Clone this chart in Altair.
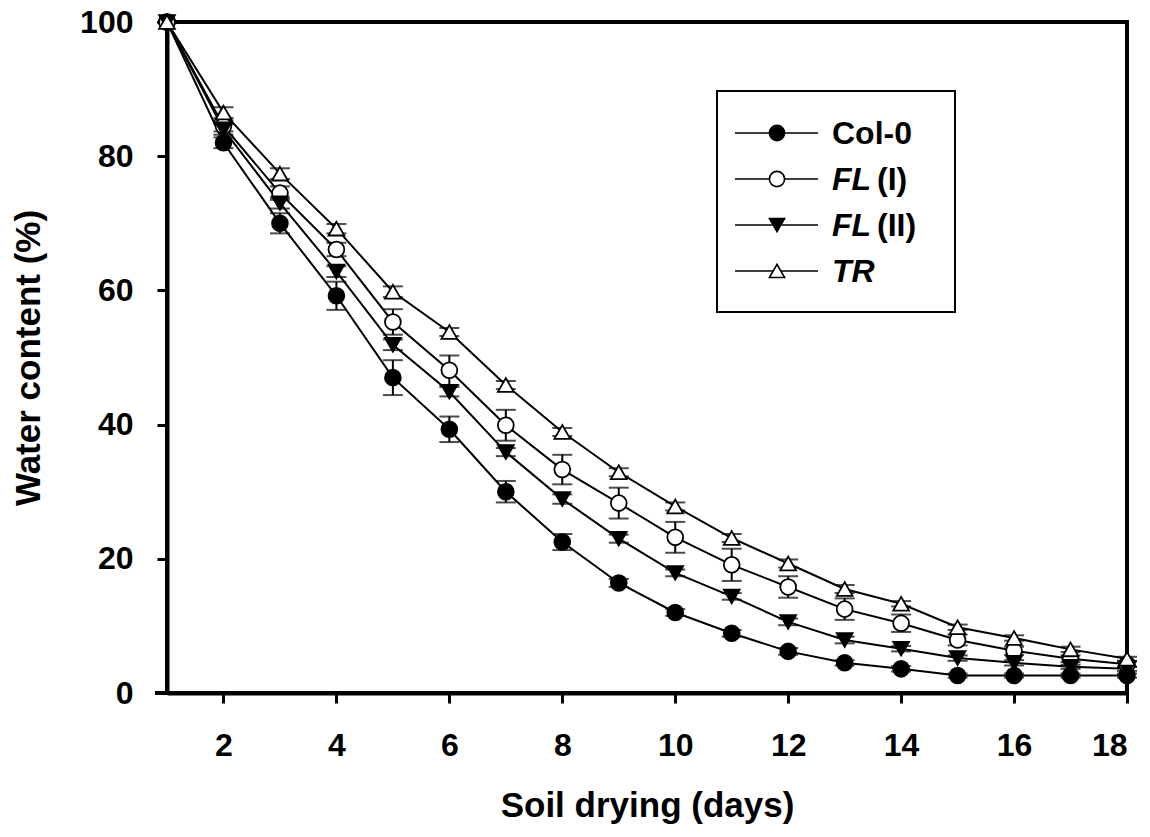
import altair as alt
import pandas as pd

# Soil drying time course: relative water content per line
days = list(range(1, 19))
series = ["Col-0", "FL (I)", "FL (II)", "TR"]

col0 = [100, 82, 70, 59.2, 47, 39.3, 30, 22.5, 16.4, 12, 8.9, 6.2, 4.5, 3.6, 2.6, 2.6, 2.6, 2.6]
fl_1 = [100, 84.5, 74.5, 66.1, 55.3, 48.1, 39.9, 33.3, 28.3, 23.2, 19.1, 15.8, 12.5, 10.4, 7.9, 6.3, 5.1, 4.3]
fl_2 = [100, 84, 73, 62.8, 51.9, 44.9, 35.9, 28.9, 23.0, 17.9, 14.4, 10.6, 7.9, 6.6, 5.2, 4.5, 3.9, 3.6]
tr = [100, 86.5, 77.4, 69.2, 59.8, 53.8, 45.9, 38.9, 32.9, 27.8, 23.1, 19.3, 15.5, 13.3, 9.8, 8.2, 6.5, 5.1]

col0_err = [0, 0.8, 1.5, 2.1, 2.6, 1.9, 1.6, 1.2, 0.6, 0.5, 0.5, 0.5, 0.4, 0.4, 0.3, 0.3, 0.3, 0.3]
fl_1_err = [0, 0.8, 1.0, 1.0, 1.9, 2.2, 2.3, 2.2, 2.3, 2.3, 2.4, 1.6, 1.6, 1.3, 0.8, 0.6, 0.5, 0.4]
fl_2_err = [0, 0.8, 0.8, 0.8, 0.8, 0.7, 0.6, 0.7, 0.6, 0.5, 0.5, 0.5, 0.5, 0.4, 0.4, 0.4, 0.3, 0.3]
tr_err = [0, 0.8, 0.8, 0.7, 0.8, 0.6, 0.6, 0.6, 0.6, 0.6, 0.6, 0.6, 0.6, 0.4, 0.4, 0.4, 0.4, 0.3]

x_ticks = [2, 4, 6, 8, 10, 12, 14, 16, 18]
y_ticks = [0, 20, 40, 60, 80, 100]

shapes = ["circle", "circle", "triangle-down", "triangle-up"]
fills = ["black", "white", "black", "white"]
sizes = [250, 250, 330, 330]

FONT = "Liberation Sans, Arial, Helvetica, sans-serif"

rows = []
for name, vals, errs in zip(series, [col0, fl_1, fl_2, tr], [col0_err, fl_1_err, fl_2_err, tr_err]):
    for d, v, e in zip(days, vals, errs):
        rows.append({"day": d, "series": name, "value": v, "lo": v - e, "hi": v + e})
df = pd.DataFrame(rows)

x_enc = alt.X("day:Q",
              scale=alt.Scale(domain=[1, 18], nice=False, zero=False),
              axis=alt.Axis(values=x_ticks, title="Soil drying (days)"))
y_enc = alt.Y("value:Q",
              scale=alt.Scale(domain=[0, 100], nice=False),
              axis=alt.Axis(values=y_ticks, title="Water content (%)"))

shape_enc = alt.Shape("series:N", scale=alt.Scale(domain=series, range=shapes), legend=None)
fill_enc = alt.Fill("series:N", scale=alt.Scale(domain=series, range=fills), legend=None)
size_enc = alt.Size("series:N", scale=alt.Scale(domain=series, range=sizes), legend=None)

base = alt.Chart(df)

err_rules = base.mark_rule(color="black", strokeWidth=2).encode(
    x=x_enc, y=alt.Y("lo:Q"), y2="hi:Q"
)
caps_lo = base.mark_tick(color="black", orient="horizontal", size=20, thickness=2).encode(
    x=x_enc, y=alt.Y("lo:Q")
)
caps_hi = base.mark_tick(color="black", orient="horizontal", size=20, thickness=2).encode(
    x=x_enc, y=alt.Y("hi:Q")
)
lines = base.mark_line(color="black", strokeWidth=2).encode(
    x=x_enc, y=y_enc, detail="series:N"
)
points = base.mark_point(filled=True, stroke="black", strokeWidth=1.8, opacity=1).encode(
    x=x_enc, y=y_enc, shape=shape_enc, fill=fill_enc, size=size_enc
)

one = pd.DataFrame({"k": [0]})

# x axis line runs a little past the y axis on the left
axis_stub = alt.Chart(one).mark_rule(color="black", strokeWidth=4).encode(
    x=alt.value(-12), x2=alt.value(0), y=alt.value(671)
)

# Hand-drawn key in the upper right of the plot area
key_layers = [
    alt.Chart(one).mark_rect(fill="white", stroke="black", strokeWidth=2).encode(
        x=alt.value(550), x2=alt.value(788), y=alt.value(69), y2=alt.value(290)
    )
]
key_rows = [111, 157, 203, 249]
key_parts = [
    [("Col-0", "normal", 665)],
    [("FL", "italic", 665), ("(I)", "normal", 710)],
    [("FL", "italic", 665), ("(II)", "normal", 710)],
    [("TR", "italic", 665)],
]
for name, shp, fl, ky, parts in zip(series, shapes, fills, key_rows, key_parts):
    key_layers.append(
        alt.Chart(one).mark_rule(color="black", strokeWidth=1.5).encode(
            x=alt.value(568), x2=alt.value(651), y=alt.value(ky)
        )
    )
    key_layers.append(
        alt.Chart(one).mark_point(shape=shp, filled=True, fill=fl, stroke="black",
                                  strokeWidth=1.6, size=230, opacity=1).encode(
            x=alt.value(610), y=alt.value(ky)
        )
    )
    for txt, style, tx in parts:
        key_layers.append(
            alt.Chart(one).mark_text(text=txt, font=FONT, fontSize=32, fontWeight="bold",
                                     fontStyle=style, align="left", baseline="middle",
                                     color="black").encode(
                x=alt.value(tx), y=alt.value(ky + 1)
            )
        )

chart = alt.layer(
    err_rules, caps_lo, caps_hi, lines, points, axis_stub, *key_layers
).properties(
    width=960,
    height=671,
    padding={"left": 167, "top": 22, "right": 23, "bottom": 144},
    autosize=alt.AutoSizeParams(type="none"),
    background="white",
).configure_view(
    stroke="black", strokeWidth=4
).configure_axis(
    domainColor="black", domainWidth=4,
    tickColor="black", tickWidth=3, tickSize=10,
    grid=False,
    labelFont=FONT, labelFontSize=32, labelFontWeight="bold", labelColor="black",
    titleFont=FONT, titleFontSize=35, titleFontWeight="bold", titleColor="black",
).configure_axisX(
    labelPadding=27, titlePadding=27
).configure_axisY(
    labelPadding=24, titlePadding=33
)

chart.save("out.html", embed_options={"renderer": "svg", "actions": False})
